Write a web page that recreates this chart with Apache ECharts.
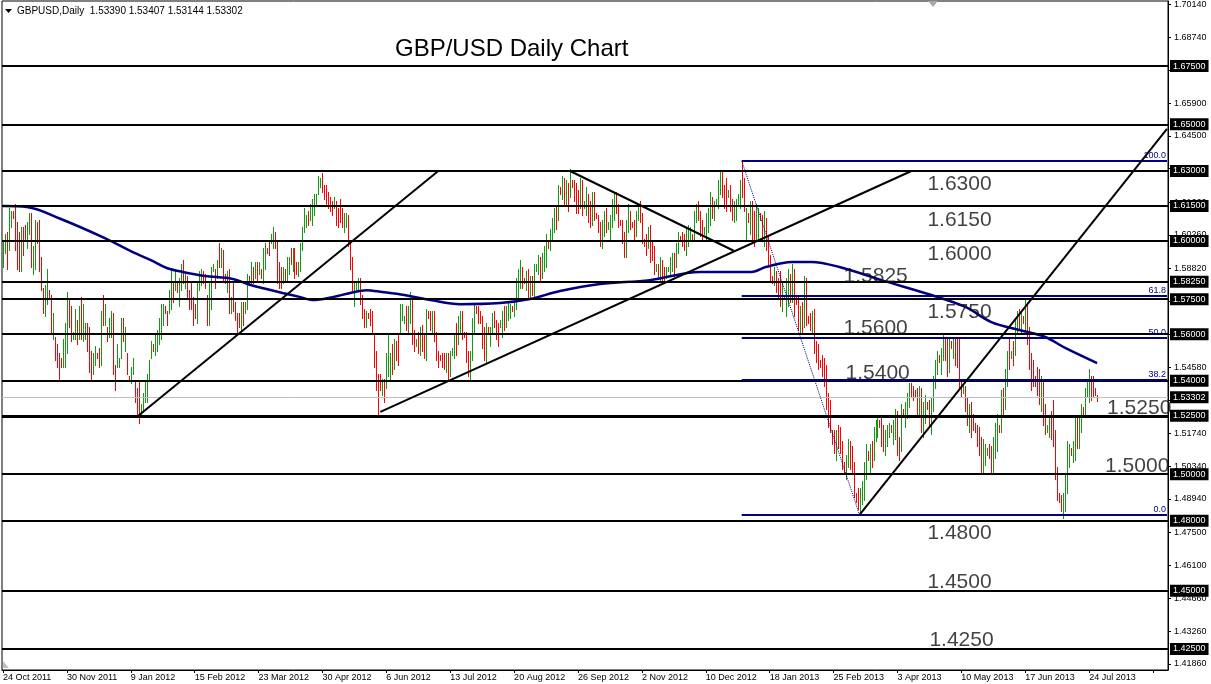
<!DOCTYPE html>
<html><head><meta charset="utf-8">
<script src="https://cdn.jsdelivr.net/npm/echarts@6/dist/echarts.min.js"></script>
<style>html,body{margin:0;padding:0;background:#fff}#chart{width:1211px;height:684px}</style>
</head><body><div id="chart"></div>
<script>
// ---------- DATA ----------
const highs = [
1.600,1.603,1.604,1.614,1.613,1.613,1.616,1.608,1.604,1.606,
1.606,1.607,1.608,1.612,1.612,1.598,1.609,1.608,1.609,1.593,
1.580,1.581,1.588,1.579,1.577,1.569,1.559,1.556,1.552,1.550,
1.558,1.565,1.578,1.575,1.572,1.561,1.571,1.566,1.572,1.576,
1.573,1.565,1.565,1.563,1.553,1.552,1.555,1.552,1.554,1.570,
1.577,1.573,1.563,1.567,1.570,1.569,1.547,1.556,1.550,1.567,
1.567,1.563,1.552,1.542,1.546,1.550,1.540,1.537,1.540,1.530,
1.535,1.540,1.543,1.549,1.557,1.556,1.560,1.562,1.567,1.573,
1.573,1.572,1.570,1.579,1.587,1.583,1.588,1.582,1.584,1.590,
1.592,1.586,1.585,1.579,1.582,1.576,1.573,1.582,1.587,1.588,
1.587,1.586,1.577,1.583,1.589,1.590,1.588,1.592,1.599,1.597,
1.596,1.586,1.587,1.588,1.576,1.582,1.574,1.569,1.569,1.574,
1.574,1.574,1.586,1.585,1.591,1.589,1.591,1.591,1.591,1.588,
1.597,1.599,1.597,1.600,1.603,1.606,1.604,1.600,1.591,1.589,
1.589,1.588,1.593,1.593,1.597,1.597,1.597,1.591,1.591,1.599,
1.606,1.614,1.611,1.613,1.616,1.618,1.620,1.620,1.628,1.627,
1.629,1.624,1.624,1.621,1.619,1.617,1.619,1.617,1.614,1.618,
1.614,1.612,1.612,1.611,1.599,1.593,1.583,1.583,1.584,1.584,
1.577,1.571,1.570,1.569,1.571,1.570,1.560,1.553,1.543,1.543,
1.541,1.541,1.552,1.560,1.552,1.556,1.558,1.557,1.560,1.573,
1.573,1.568,1.572,1.572,1.578,1.575,1.562,1.558,1.561,1.563,
1.564,1.560,1.571,1.570,1.570,1.570,1.570,1.561,1.553,1.551,
1.552,1.552,1.552,1.552,1.553,1.554,1.560,1.565,1.568,1.570,
1.570,1.561,1.561,1.553,1.553,1.567,1.573,1.572,1.572,1.570,
1.568,1.563,1.565,1.563,1.563,1.569,1.570,1.566,1.565,1.566,
1.570,1.572,1.572,1.574,1.573,1.572,1.575,1.584,1.588,1.592,
1.589,1.584,1.587,1.588,1.585,1.585,1.590,1.590,1.594,1.593,
1.595,1.598,1.603,1.600,1.605,1.610,1.614,1.615,1.624,1.623,
1.628,1.627,1.626,1.625,1.631,1.626,1.626,1.625,1.622,1.627,
1.626,1.617,1.623,1.620,1.617,1.621,1.621,1.612,1.611,1.608,
1.609,1.613,1.614,1.608,1.611,1.618,1.621,1.621,1.616,1.609,
1.609,1.604,1.609,1.616,1.613,1.608,1.609,1.613,1.616,1.617,
1.612,1.601,1.603,1.606,1.607,1.600,1.598,1.590,1.590,1.593,
1.592,1.589,1.589,1.589,1.593,1.595,1.595,1.599,1.604,1.602,
1.604,1.603,1.605,1.607,1.606,1.603,1.613,1.616,1.617,1.613,
1.609,1.606,1.612,1.614,1.621,1.619,1.617,1.618,1.626,1.630,
1.630,1.624,1.627,1.622,1.624,1.618,1.617,1.618,1.620,1.626,
1.634,1.627,1.614,1.612,1.617,1.617,1.613,1.616,1.614,1.612,
1.611,1.613,1.610,1.602,1.594,1.585,1.589,1.587,1.584,1.587,
1.583,1.577,1.584,1.588,1.586,1.590,1.588,1.576,1.576,1.572,
1.574,1.585,1.584,1.568,1.569,1.570,1.571,1.557,1.556,1.549,
1.551,1.550,1.547,1.535,1.532,1.519,1.519,1.519,1.521,1.520,
1.514,1.505,1.508,1.515,1.514,1.512,1.505,1.492,1.494,1.494,
1.497,1.505,1.513,1.510,1.513,1.514,1.520,1.523,1.525,1.523,
1.525,1.521,1.519,1.521,1.522,1.521,1.523,1.528,1.527,1.516,
1.530,1.528,1.531,1.535,1.539,1.539,1.538,1.536,1.537,1.538,
1.537,1.531,1.534,1.531,1.532,1.533,1.542,1.549,1.553,1.551,
1.554,1.560,1.559,1.558,1.559,1.557,1.559,1.559,1.558,1.558,
1.541,1.538,1.538,1.533,1.530,1.531,1.526,1.522,1.521,1.520,
1.516,1.515,1.513,1.511,1.513,1.512,1.516,1.522,1.526,1.521,
1.536,1.537,1.545,1.553,1.558,1.553,1.557,1.566,1.570,1.571,
1.570,1.568,1.575,1.573,1.563,1.552,1.549,1.542,1.546,1.545,
1.542,1.541,1.530,1.521,1.525,1.527,1.532,1.519,1.503,1.492,
1.491,1.492,1.500,1.514,1.513,1.511,1.514,1.524,1.524,1.524,
1.530,1.529,1.537,1.541,1.545,1.542,1.542,1.537,1.53407
];
const lows = [
1.589,1.595,1.588,1.596,1.606,1.610,1.596,1.588,1.587,1.587,
1.594,1.601,1.597,1.603,1.589,1.586,1.588,1.599,1.587,1.579,
1.569,1.568,1.573,1.575,1.561,1.558,1.549,1.546,1.541,1.546,
1.546,1.546,1.552,1.563,1.557,1.558,1.558,1.556,1.558,1.558,
1.557,1.558,1.553,1.544,1.540,1.543,1.547,1.550,1.546,1.547,
1.564,1.564,1.557,1.559,1.559,1.543,1.536,1.546,1.546,1.550,
1.557,1.553,1.543,1.540,1.539,1.543,1.531,1.526,1.522,1.526,
1.527,1.531,1.531,1.541,1.550,1.553,1.551,1.553,1.556,1.558,
1.564,1.569,1.564,1.569,1.571,1.574,1.579,1.578,1.572,1.579,
1.582,1.580,1.576,1.571,1.571,1.564,1.567,1.565,1.579,1.581,
1.582,1.580,1.564,1.564,1.571,1.587,1.580,1.584,1.589,1.589,
1.583,1.582,1.578,1.569,1.569,1.570,1.566,1.561,1.563,1.561,
1.564,1.569,1.571,1.582,1.582,1.582,1.584,1.583,1.586,1.584,
1.582,1.588,1.595,1.594,1.599,1.597,1.597,1.582,1.580,1.580,
1.582,1.583,1.583,1.586,1.590,1.587,1.584,1.586,1.585,1.587,
1.596,1.604,1.606,1.607,1.609,1.607,1.611,1.615,1.620,1.623,
1.621,1.618,1.616,1.614,1.613,1.611,1.614,1.607,1.606,1.608,
1.606,1.604,1.606,1.598,1.588,1.579,1.572,1.579,1.579,1.573,
1.567,1.563,1.563,1.567,1.564,1.560,1.546,1.536,1.526,1.536,
1.534,1.531,1.537,1.542,1.540,1.543,1.545,1.549,1.547,1.560,
1.566,1.565,1.562,1.560,1.565,1.556,1.553,1.555,1.552,1.551,
1.553,1.550,1.549,1.567,1.562,1.561,1.557,1.549,1.546,1.549,
1.546,1.545,1.544,1.540,1.542,1.551,1.550,1.551,1.556,1.561,
1.558,1.559,1.548,1.542,1.541,1.549,1.560,1.569,1.565,1.565,
1.554,1.549,1.548,1.561,1.555,1.561,1.563,1.558,1.555,1.563,
1.559,1.562,1.563,1.566,1.567,1.570,1.568,1.571,1.576,1.580,
1.580,1.582,1.579,1.576,1.576,1.577,1.576,1.587,1.586,1.583,
1.584,1.587,1.589,1.597,1.596,1.600,1.604,1.605,1.609,1.620,
1.618,1.616,1.616,1.613,1.619,1.623,1.617,1.612,1.612,1.614,
1.611,1.614,1.611,1.608,1.606,1.607,1.609,1.610,1.604,1.598,
1.597,1.602,1.604,1.605,1.601,1.606,1.609,1.612,1.606,1.607,
1.599,1.593,1.593,1.604,1.605,1.606,1.601,1.602,1.609,1.608,
1.599,1.598,1.594,1.597,1.591,1.592,1.586,1.587,1.584,1.583,
1.583,1.582,1.584,1.587,1.586,1.587,1.585,1.589,1.595,1.600,
1.598,1.596,1.594,1.598,1.600,1.601,1.601,1.608,1.609,1.602,
1.600,1.603,1.600,1.604,1.607,1.610,1.609,1.615,1.614,1.620,
1.619,1.614,1.613,1.619,1.613,1.609,1.608,1.609,1.616,1.614,
1.619,1.613,1.601,1.608,1.603,1.600,1.598,1.600,1.601,1.609,
1.600,1.598,1.596,1.590,1.583,1.582,1.581,1.578,1.576,1.572,
1.570,1.575,1.568,1.572,1.574,1.574,1.568,1.573,1.562,1.560,
1.561,1.563,1.564,1.565,1.562,1.560,1.552,1.548,1.545,1.546,
1.542,1.538,1.528,1.520,1.518,1.513,1.509,1.506,1.511,1.509,
1.502,1.500,1.498,1.503,1.502,1.501,1.490,1.488,1.485,1.483,
1.487,1.489,1.498,1.506,1.501,1.503,1.506,1.514,1.516,1.520,
1.512,1.510,1.508,1.512,1.516,1.518,1.513,1.515,1.508,1.506,
1.510,1.525,1.520,1.524,1.529,1.533,1.532,1.533,1.526,1.526,
1.518,1.516,1.522,1.528,1.520,1.517,1.527,1.537,1.543,1.548,
1.543,1.549,1.549,1.542,1.544,1.554,1.550,1.547,1.546,1.537,
1.533,1.535,1.527,1.521,1.518,1.516,1.519,1.518,1.512,1.508,
1.500,1.500,1.504,1.508,1.507,1.500,1.501,1.507,1.510,1.518,
1.518,1.526,1.528,1.538,1.545,1.550,1.547,1.551,1.560,1.562,
1.561,1.565,1.562,1.556,1.545,1.536,1.538,1.538,1.534,1.530,
1.527,1.521,1.517,1.518,1.516,1.515,1.512,1.498,1.489,1.488,
1.484,1.481,1.484,1.492,1.503,1.508,1.505,1.506,1.511,1.511,
1.518,1.526,1.525,1.533,1.531,1.532,1.533,1.534,1.53144
];
// 1 = bullish (green) bar, 0 = bearish (red) bar
const ups = [
1,1,0,1,1,0,0,0,0,1, 0,0,1,1,0,1,1,0,0,0, 0,1,1,0,0,1,0,0,0,0, 1,1,1,0,0,1,1,0,1,0,
1,1,0,0,0,1,1,0,0,1, 0,1,0,1,1,0,0,1,1,1, 0,1,0,0,1,1,0,0,0,1, 1,1,1,1,1,0,1,1,1,1,
1,0,0,1,1,0,1,0,1,1, 0,1,0,0,0,0,0,1,1,1, 0,0,0,1,1,1,0,1,0,1, 0,0,1,0,1,0,0,0,0,1,
0,1,1,0,1,0,1,0,1,0, 1,1,0,0,1,1,0,0,0,0, 1,0,1,1,0,1,0,0,1,1, 1,1,1,0,1,1,1,1,1,1,
0,0,0,0,0,0,1,0,0,0, 0,1,1,0,0,0,1,1,1,0, 0,0,1,0,0,0,0,0,0,0, 1,0,1,1,1,0,1,0,0,1,
1,1,0,1,1,0,0,1,0,1, 0,0,1,0,0,1,0,0,0,0, 0,0,1,0,1,1,1,0,1,1, 0,0,0,0,1,1,1,0,0,0,
0,0,1,0,1,1,0,0,0,1, 1,0,1,1,1,0,1,1,1,1, 0,0,1,0,1,0,1,1,1,0, 1,1,1,0,1,1,1,0,1,0,
1,0,1,0,1,0,0,0,0,1, 0,1,1,0,0,1,0,0,0,0, 1,1,0,1,1,1,1,0,0,0, 0,0,1,1,0,0,0,1,1,0,
0,0,0,1,0,0,0,1,0,1, 0,0,1,1,1,1,0,1,1,0, 0,0,1,1,1,0,1,1,0,0, 0,1,1,1,1,0,1,1,1,1,
0,0,0,1,0,0,1,1,1,1, 0,0,1,0,1,0,0,1,1,0, 0,1,0,0,0,0,1,0,0,0, 1,0,1,1,0,1,0,0,0,1,
0,1,0,0,0,1,0,0,0,0, 0,0,0,0,0,0,0,1,0,0, 0,0,1,1,0,0,0,0,0,1, 1,1,1,0,1,0,1,1,1,0,
0,0,1,1,1,0,1,1,0,0, 1,0,1,1,1,0,0,0,0,1, 0,1,1,0,0,1,1,1,1,0, 1,1,0,0,1,0,1,0,0,0,
0,1,0,0,1,0,0,0,0,0, 0,1,1,1,0,0,1,1,1,0, 1,0,1,1,0,1,0,1,1,0, 1,0,1,0,0,0,0,0,0,0,
1,0,0,1,1,0,0,0,0,0, 0,1,1,1,1,0,1,1,0,1, 1,0,1,1,1,0,0,0,0
];
// 100-period moving average, read at sample bars: [bar index, price]
const maPoints = [
[0,1.6150],[12,1.6146],[29,1.6094],[51,1.6012],[65,1.5952],[74,1.5918],[82,1.5884],
[90,1.5867],[101,1.5850],[115,1.5837],[124,1.5811],[132,1.5794],[140,1.5777],[149,1.5759],
[155,1.5747],[165,1.5759],[174,1.5777],[182,1.5789],[190,1.5781],[201,1.5768],[214,1.5747],
[229,1.5729],[249,1.5734],[264,1.5751],[279,1.5785],[299,1.5815],[324,1.5832],[349,1.5867],
[375,1.5867],[382,1.5888],[395,1.5910],[405,1.5910],[419,1.5888],[440,1.5832],[465,1.5768],
[482,1.5717],[495,1.5652],[509,1.5618],[522,1.5588],[532,1.5541],[548,1.5476]
];
const lastQuote = [1.53390, 1.53407, 1.53144, 1.53302]; // O H L C of last bar
const levels = [1.675, 1.65, 1.63, 1.615, 1.60, 1.5825, 1.575, 1.56, 1.54, 1.525, 1.50, 1.48, 1.45, 1.425];
const yTicks = [1.41860,1.43260,1.44660,1.46100,1.47500,1.48940,1.50340,1.51740,1.53180,1.54580,1.56020,
  1.57420,1.58820,1.60260,1.61660,1.63100,1.64500,1.65900,1.67340,1.68740,1.70140];
// Fibonacci retracement: swing high (bar 370) and swing low (bar 429)
const fibHighBar = 370, fibHigh = 1.6343, fibLowBar = 429, fibLow = 1.4825;
const fibLevels = [0, 38.2, 50, 61.8, 100];
// trend lines: [startBar, startPrice, endBar, endPrice]
const trendLines = [
  [67, 1.5245, 218, 1.6300],
  [189, 1.5267, 455, 1.6300],
  [284, 1.6300, 366, 1.5958],
  [429, 1.4825, 583, 1.6481]
];
const annoTexts  = ['1.6300','1.6150','1.6000','1.5825','1.5750','1.5600','1.5400','1.5250','1.5000','1.4800','1.4500','1.4250'];
const annoBars   = [463, 463, 463, 421, 463, 421, 422, 553, 552, 463, 463, 464];
const annoPrices = [1.6245, 1.6090, 1.5945, 1.5850, 1.5696, 1.5627, 1.5434, 1.5284, 1.5035, 1.4748, 1.4537, 1.4289];
const axisCount = 584; // daily slots incl. right-hand chart shift

// ---------- CATEGORIES (trading days: Sun-Fri, no Christmas / New Year) ----------
const MON = ['Jan','Feb','Mar','Apr','May','Jun','Jul','Aug','Sep','Oct','Nov','Dec'];
const categories = [];
for (let d = new Date(Date.UTC(2011, 9, 24)); categories.length < axisCount; d.setUTCDate(d.getUTCDate() + 1)) {
  const dow = d.getUTCDay(), m = d.getUTCMonth(), day = d.getUTCDate();
  if (dow === 6) continue;
  if ((m === 11 && day === 25) || (m === 0 && day === 1)) continue;
  categories.push(day + ' ' + MON[m] + ' ' + d.getUTCFullYear());
}

// ---------- CHART ----------
const FONT = 'Liberation Sans, Arial, sans-serif';
const GREEN = '#119a11', RED = '#ff0000', NAVY = '#000080';
const chart = echarts.init(document.getElementById('chart'), null, {renderer: 'canvas', devicePixelRatio: 1});

const boxLabel = (txt) => ({show: true, position: 'end', distance: 2, formatter: txt,
  color: '#fff', backgroundColor: '#000', padding: [2, 3, 1, 3], fontSize: 9, fontFamily: FONT});

const lineData = [];
levels.forEach(v => lineData.push({yAxis: v,
  lineStyle: {color: '#000', width: v === 1.525 ? 3 : 2, type: 'solid'}, label: boxLabel(v.toFixed(5))}));
lineData.push({yAxis: lastQuote[3], lineStyle: {color: '#c0c0c0', width: 1, type: 'solid'},
  label: boxLabel(lastQuote[3].toFixed(5))});
fibLevels.forEach(f => {
  const p = fibLow + (fibHigh - fibLow) * f / 100;
  lineData.push([{coord: [fibHighBar, p], lineStyle: {color: NAVY, width: 2, type: 'solid'},
    label: {show: true, position: 'insideEndTop', distance: 1, formatter: f.toFixed(1),
      color: NAVY, fontSize: 9, fontFamily: FONT}}, {coord: [axisCount - 1, p]}]);
});
lineData.push([{coord: [fibHighBar, fibHigh], lineStyle: {color: NAVY, width: 1, type: 'dotted'}, label: {show: false}},
  {coord: [fibLowBar, fibLow]}]);
trendLines.forEach(t => lineData.push([{coord: [t[0], t[1]], lineStyle: {color: '#000', width: 2, type: 'solid'},
  label: {show: false}}, {coord: [t[2], t[3]]}]));

const barData = highs.map((h, i) => [i, h, lows[i], ups[i]]);

chart.setOption({
  animation: false,
  backgroundColor: '#fff',
  title: {text: 'GBP/USD Daily Chart', left: 395, top: 37, padding: 0,
    textStyle: {fontFamily: FONT, fontSize: 24, fontWeight: 'normal', color: '#000'}},
  graphic: [
    {type: 'polygon', shape: {points: [[5, 9], [12, 9], [8.5, 13]]}, style: {fill: '#000'}, z: 100},
    {type: 'text', left: 17, top: 6, z: 100, style: {text: 'GBPUSD,Daily  ' + lastQuote.map(v => v.toFixed(5)).join(' '),
      font: '10px ' + FONT, fill: '#000'}},
    {type: 'polygon', shape: {points: [[928, 1], [938, 1], [933, 7]]}, style: {fill: '#a8a8a8'}, z: 100},
    {type: 'polygon', shape: {points: [[3, 661], [3, 668], [9, 668]]}, style: {fill: '#c0c0c0'}, z: 100}
  ],
  grid: {left: 1, right: 43, top: 1, bottom: 14, show: true, borderColor: '#000', borderWidth: 1, backgroundColor: '#fff'},
  xAxis: {
    type: 'category', data: categories, boundaryGap: true,
    axisLine: {show: true, lineStyle: {color: '#000', width: 1}},
    axisTick: {show: true, interval: 31, alignWithLabel: true, length: 3, lineStyle: {color: '#000'}},
    axisLabel: {interval: 31, align: 'left', margin: 3, fontSize: 9, fontFamily: FONT, color: '#000',
      formatter: (v, i) => i < highs.length ? v : ''},
    splitLine: {show: false}
  },
  yAxis: {
    type: 'value', position: 'right', min: 1.4160, max: 1.7029, scale: true,
    axisLine: {show: true, lineStyle: {color: '#000', width: 1}},
    axisTick: {show: true, length: 3, customValues: yTicks, lineStyle: {color: '#000'}},
    axisLabel: {customValues: yTicks, margin: 6, fontSize: 9, fontFamily: FONT, color: '#000',
      formatter: v => v.toFixed(5)},
    splitLine: {show: false}
  },
  series: [
    {
      name: 'GBPUSD', type: 'custom', data: barData, encode: {x: 0, y: [1, 2]}, z: 2,
      renderItem: (params, api) => {
        const i = api.value(0);
        const top = api.coord([i, api.value(1)]);
        const bot = api.coord([i, api.value(2)]);
        const x = Math.round(top[0]);
        const y0 = Math.round(top[1]);
        const h = Math.max(1, Math.round(bot[1]) - y0 + 1);
        return {type: 'rect', shape: {x: x, y: y0, width: 1, height: h},
          style: {fill: api.value(3) ? GREEN : RED, stroke: null, lineWidth: 0}};
      }
    },
    {
      name: 'MA', type: 'line', data: maPoints, smooth: 0.35, showSymbol: false, z: 3,
      lineStyle: {color: NAVY, width: 2.5}
    },
    {
      name: 'objects', type: 'line', data: [], z: 4,
      markLine: {silent: true, symbol: ['none', 'none'], precision: 5, animation: false, data: lineData}
    },
    {
      name: 'notes', type: 'scatter', z: 5, symbolSize: 0, silent: true,
      data: annoBars.map((b, i) => [b, annoPrices[i]]),
      label: {show: true, position: 'right', distance: 0, fontSize: 21, fontFamily: FONT, color: '#111',
        formatter: p => annoTexts[p.dataIndex]}
    }
  ]
});
</script></body></html>
